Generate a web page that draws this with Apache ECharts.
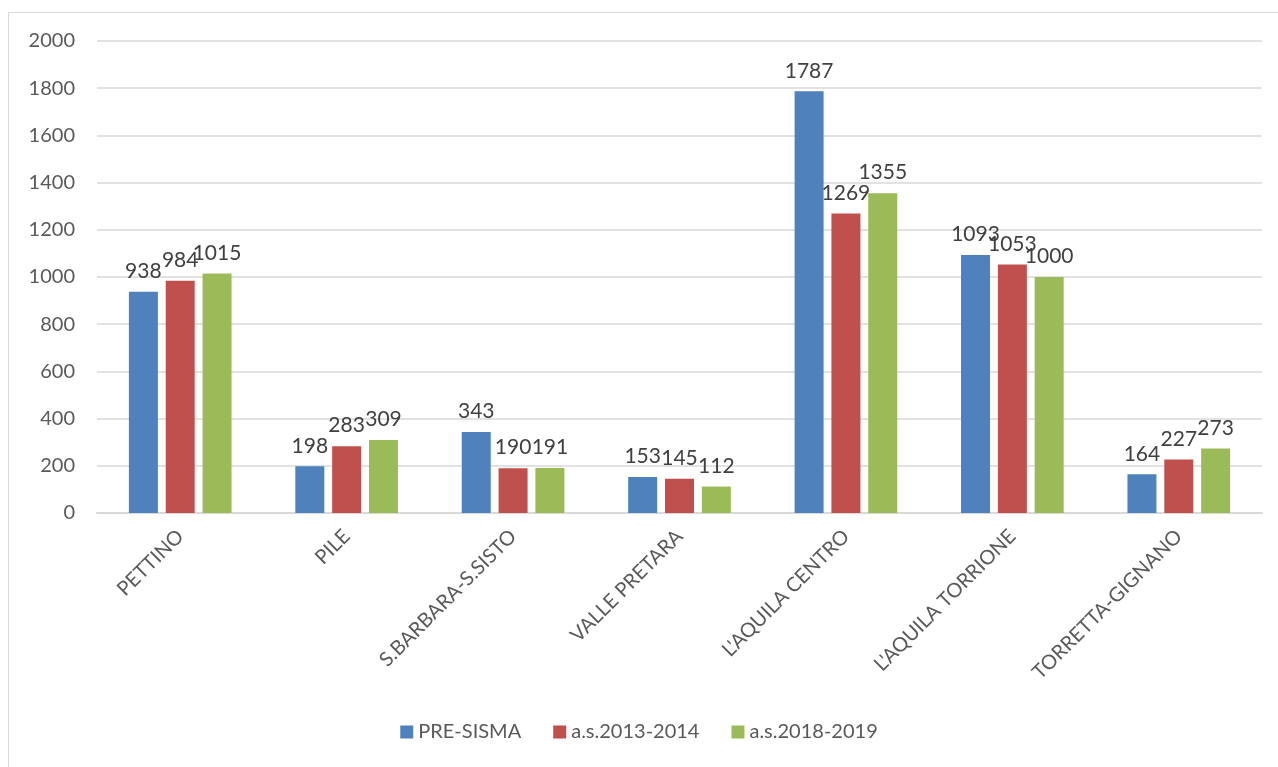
<!DOCTYPE html>
<html>
<head>
<meta charset="utf-8">
<script src="https://cdn.jsdelivr.net/npm/echarts@6/dist/echarts.min.js"></script>
<style>
  html, body { margin: 0; padding: 0; background: #fff; }
  #chart { width: 1278px; height: 767px; }
</style>
</head>
<body>
<div id="chart"></div>
<script>
const categories = ['PETTINO', 'PILE', 'S.BARBARA-S.SISTO', 'VALLE PRETARA', "L'AQUILA CENTRO", "L'AQUILA TORRIONE", 'TORRETTA-GIGNANO'];
const preSisma = [938, 198, 343, 153, 1787, 1093, 164];
const as2013 = [984, 283, 190, 145, 1269, 1053, 227];
const as2018 = [1015, 309, 191, 112, 1355, 1000, 273];
const seriesNames = ['PRE-SISMA', 'a.s.2013-2014', 'a.s.2018-2019'];
const colors = ['#4F81BD', '#C0504D', '#9BBB59'];

const font = 'Lato, "Open Sans", sans-serif';

function barSeries(name, data, color) {
  return {
    name: name,
    type: 'bar',
    data: data,
    barWidth: 29,
    barGap: '27%',
    itemStyle: { color: color },
    label: {
      show: true,
      position: 'top',
      distance: 10,
      color: '#404040',
      fontSize: 21,
      fontFamily: font,
    },
  };
}

const chart = echarts.init(document.getElementById('chart'));
chart.setOption({
  animation: false,
  color: colors,
  graphic: [{
    type: 'rect',
    shape: { x: 8.5, y: 12.5, width: 1270, height: 760 },
    style: { fill: 'none', stroke: '#d9d9d9', lineWidth: 1 },
    silent: true,
  }],
  grid: {
    left: 97,
    right: 16,
    top: 41,
    bottom: 254,
  },
  legend: {
    bottom: 20,
    left: 'center',
    itemWidth: 13,
    itemHeight: 13,
    itemGap: 32,
    icon: 'rect',
    textStyle: { color: '#595959', fontSize: 20, fontFamily: font },
    data: seriesNames,
  },
  xAxis: {
    type: 'category',
    data: categories,
    axisLine: { lineStyle: { color: '#d9d9d9', width: 2 } },
    axisTick: { show: false },
    axisLabel: {
      interval: 0,
      rotate: 45,
      margin: 20,
      color: '#595959',
      fontSize: 20,
      fontFamily: font,
    },
  },
  yAxis: {
    type: 'value',
    min: 0,
    max: 2000,
    interval: 200,
    axisLine: { show: false },
    axisTick: { show: false },
    axisLabel: {
      color: '#595959',
      fontSize: 20,
      fontFamily: font,
      margin: 22,
      formatter: (v) => String(v),
    },
    splitLine: { lineStyle: { color: '#d9d9d9', width: 1.5 } },
  },
  series: [
    barSeries(seriesNames[0], preSisma, colors[0]),
    barSeries(seriesNames[1], as2013, colors[1]),
    barSeries(seriesNames[2], as2018, colors[2]),
  ],
});
</script>
</body>
</html>
